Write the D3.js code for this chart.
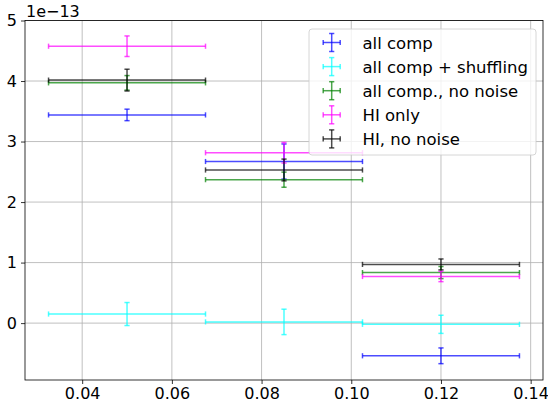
<!DOCTYPE html>
<html><head><meta charset="utf-8">
<script src="https://cdn.jsdelivr.net/npm/d3@7"></script>
<style>body{margin:0;background:#fff;} text{font-family:"DejaVu Sans",sans-serif;}</style>
</head><body>
<svg id="chart" width="548" height="403"></svg>
<script>
const xCenters = [0.05, 0.085, 0.12];
const xErr = [0.0175, 0.0175, 0.0175];
const seriesNames = ["all comp", "all comp + shuffling", "all comp., no noise", "HI only", "HI, no noise"];
const seriesColors = ["#0000ff", "#00ffff", "#008000", "#ff00ff", "#000000"];
const allComp = [3.44e-13, 2.67e-13, -0.54e-13];
const allCompErr = [0.095e-13, 0.29e-13, 0.13e-13];
const shuffling = [0.15e-13, 0.02e-13, -0.02e-13];
const shufflingErr = [0.19e-13, 0.21e-13, 0.15e-13];
const noNoise = [3.97e-13, 2.37e-13, 0.835e-13];
const noNoiseErr = [0.12e-13, 0.125e-13, 0.10e-13];
const hiOnly = [4.575e-13, 2.815e-13, 0.77e-13];
const hiOnlyErr = [0.17e-13, 0.17e-13, 0.085e-13];
const hiNoNoise = [4.015e-13, 2.53e-13, 0.97e-13];
const hiNoNoiseErr = [0.18e-13, 0.18e-13, 0.09e-13];
const xTicks = [0.04, 0.06, 0.08, 0.10, 0.12, 0.14];
const yTicks = [0, 1e-13, 2e-13, 3e-13, 4e-13, 5e-13];
const offsetLabel = "1e\u221213";

const seriesVals = [allComp, shuffling, noNoise, hiOnly, hiNoNoise];
const seriesErrs = [allCompErr, shufflingErr, noNoiseErr, hiOnlyErr, hiNoNoiseErr];

const L = 25, R = 543, T = 20.5, B = 380;
const svg = d3.select("#chart");
const x = d3.scaleLinear().domain([0.02725, 0.14275]).range([L, R]);
const y = d3.scaleLinear().domain([-0.94e-13, 5.0e-13]).range([B, T]);

// grid
const g = svg.append("g");
g.selectAll(".gx").data(xTicks).enter().append("line")
  .attr("x1", d => x(d)).attr("x2", d => x(d)).attr("y1", T).attr("y2", B)
  .attr("stroke", "#b0b0b0").attr("stroke-width", 0.8);
g.selectAll(".gy").data(yTicks).enter().append("line")
  .attr("y1", d => y(d)).attr("y2", d => y(d)).attr("x1", L).attr("x2", R)
  .attr("stroke", "#b0b0b0").attr("stroke-width", 0.8);

// axes
const xAxis = d3.axisBottom(x).tickValues(xTicks).tickFormat(d3.format(".2f")).tickSizeInner(4).tickSizeOuter(0).tickPadding(4);
const yAxis = d3.axisLeft(y).tickValues(yTicks).tickFormat(d => d3.format("d")(Math.round(d / 1e-13))).tickSizeInner(4).tickSizeOuter(0).tickPadding(4);
const gx = svg.append("g").attr("transform", `translate(0,${B})`).call(xAxis);
const gy = svg.append("g").attr("transform", `translate(${L},0)`).call(yAxis);
[gx, gy].forEach(a => {
  a.select(".domain").remove();
  a.selectAll("text").attr("font-size", 16).attr("fill", "#000").style("font-family", "DejaVu Sans");
  a.selectAll("line").attr("stroke", "#000").attr("stroke-width", 0.8);
});

// error bars
const cap = 2.6;
seriesVals.forEach((vals, si) => {
  const errs = seriesErrs[si];
  const col = seriesColors[si];
  const sg = svg.append("g").attr("stroke", col).attr("stroke-width", 1.5).attr("stroke-opacity", 0.7).attr("fill", "none");
  vals.forEach((v, i) => {
    const cx = xCenters[i], xe = xErr[i], ye = errs[i];
    const x0 = x(cx - xe), x1 = x(cx + xe), xc = x(cx);
    const yc = y(v), y0 = y(v - ye), y1 = y(v + ye);
    sg.append("line").attr("x1", x0).attr("x2", x1).attr("y1", yc).attr("y2", yc);
    sg.append("line").attr("x1", xc).attr("x2", xc).attr("y1", y0).attr("y2", y1);
    sg.append("line").attr("x1", x0).attr("x2", x0).attr("y1", yc - cap).attr("y2", yc + cap);
    sg.append("line").attr("x1", x1).attr("x2", x1).attr("y1", yc - cap).attr("y2", yc + cap);
    sg.append("line").attr("x1", xc - cap).attr("x2", xc + cap).attr("y1", y0).attr("y2", y0);
    sg.append("line").attr("x1", xc - cap).attr("x2", xc + cap).attr("y1", y1).attr("y2", y1);
  });
});

// spines
svg.append("rect").attr("x", L).attr("y", T).attr("width", R - L).attr("height", B - T)
  .attr("fill", "none").attr("stroke", "#000").attr("stroke-width", 0.8);

// offset text
svg.append("text").attr("x", L + 1).attr("y", 17).attr("font-size", 16).text(offsetLabel);

// legend
const lg = svg.append("g");
lg.append("rect").attr("x", 309).attr("y", 29).attr("width", 227).attr("height", 126)
  .attr("rx", 3).attr("fill", "#fff").attr("fill-opacity", 0.8).attr("stroke", "#cccccc").attr("stroke-width", 0.8);
seriesNames.forEach((name, i) => {
  const cy = 42.5 + i * 24.1, mx = 331.7;
  const mg = lg.append("g").attr("stroke", seriesColors[i]).attr("stroke-width", 1.5).attr("stroke-opacity", 0.7);
  mg.append("line").attr("x1", mx - 8.5).attr("x2", mx + 8.5).attr("y1", cy).attr("y2", cy);
  mg.append("line").attr("x1", mx).attr("x2", mx).attr("y1", cy - 9).attr("y2", cy + 9);
  mg.append("line").attr("x1", mx - 8.5).attr("x2", mx - 8.5).attr("y1", cy - cap).attr("y2", cy + cap);
  mg.append("line").attr("x1", mx + 8.5).attr("x2", mx + 8.5).attr("y1", cy - cap).attr("y2", cy + cap);
  mg.append("line").attr("x1", mx - cap).attr("x2", mx + cap).attr("y1", cy - 9).attr("y2", cy - 9);
  mg.append("line").attr("x1", mx - cap).attr("x2", mx + cap).attr("y1", cy + 9).attr("y2", cy + 9);
  lg.append("text").attr("x", 362.5).attr("y", cy + 6).attr("font-size", 16.5).attr("fill", "#000").text(name);
});
</script>
</body></html>
